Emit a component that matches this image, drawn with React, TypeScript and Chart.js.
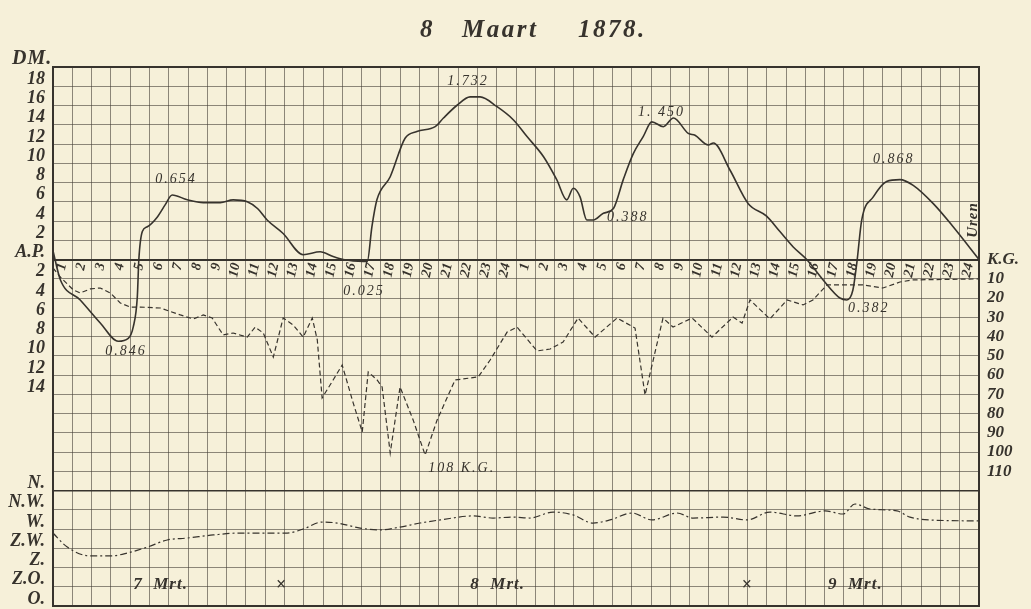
import React, { useEffect, useRef } from "react";
import { Chart, registerables } from "chart.js";

Chart.register(...registerables);

// ---------- data ----------
const hourLabels = [
  "1", "2", "3", "4", "5", "6", "7", "8", "9", "10", "11", "12",
  "13", "14", "15", "16", "17", "18", "19", "20", "21", "22", "23", "24",
  "1", "2", "3", "4", "5", "6", "7", "8", "9", "10", "11", "12",
  "13", "14", "15", "16", "17", "18", "19", "20", "21", "22", "23", "24",
];

// water level (decimetres above/below A.P.), hours from start of sheet
const waterHours = [
  0, 0.38, 1.41, 2.45, 3.38, 3.9, 4.16, 4.37, 4.45, 4.63, 4.89, 5.4, 5.82, 6.18,
  6.96, 7.79, 8.67, 9.34, 10.07, 10.6, 11.1, 11.93, 12.97, 13.85, 14.52, 15.04,
  16.08, 16.29, 16.53, 16.79, 17.48, 18.25, 18.86, 19.81, 20.24, 20.93, 21.62,
  22.14, 23.0, 23.87, 24.56, 25.42, 26.11, 26.63, 26.97, 27.32, 27.67, 28.01,
  28.53, 29.05, 29.56, 30.08, 30.6, 31.04, 31.64, 32.16, 32.93, 33.28, 33.97,
  34.23, 35.09, 36.04, 36.99, 37.68, 38.37, 39.07, 39.91, 40.79, 41.15, 41.46,
  41.67, 41.92, 42.52, 43.21, 43.9, 44.59, 45.63, 46.66, 48.0,
];
const waterDM = [
  0.9, -2.1, -4.2, -6.6, -8.5, -8.2, -7.0, -3.9, 0.0, 2.9, 3.4, 4.4, 5.7, 6.7,
  6.2, 5.9, 5.9, 6.2, 6.0, 5.3, 4.1, 2.7, 0.5, 0.8, 0.3, 0.0,
  -0.2, -0.2, 3.4, 6.2, 8.6, 12.6, 13.3, 13.8, 14.7, 16.0, 16.9,
  16.9, 15.9, 14.5, 12.8, 10.7, 8.3, 6.2, 7.4, 6.5, 4.1, 4.1,
  4.8, 5.3, 8.3, 11.0, 12.8, 14.3, 13.8, 14.7, 13.1, 12.9, 11.9,
  12.1, 9.3, 5.8, 4.5, 2.9, 1.3, 0.0, -2.1, -4.0, -4.2, -3.2,
  -0.3, 4.1, 6.5, 8.1, 8.3, 7.7, 5.8, 3.4, 0.0,
];

// wind pressure (K.G.)
const pressureHours = [
  0, 0.38, 1.05, 1.41, 1.93, 2.45, 2.97, 3.49, 4.0, 4.52, 5.56, 6.6, 7.27, 7.79,
  8.25, 8.82, 9.34, 10.07, 10.48, 10.9, 11.42, 11.93, 12.45, 12.97, 13.44, 13.7,
  13.95, 14.52, 14.99, 15.56, 16.03, 16.34, 16.8, 17.06, 17.48, 17.99, 18.67,
  19.29, 19.91, 20.84, 22.04, 22.66, 23.54, 24.05, 25.09, 25.77, 26.44, 27.22,
  28.1, 29.24, 30.17, 30.69, 31.62, 32.14, 33.13, 34.16, 35.25, 35.72, 36.13,
  37.16, 38.05, 38.88, 39.39, 40.12, 40.95, 41.98, 43.02, 43.9, 44.58, 48.0,
];
const pressureKG = [
  4.4, 9.1, 15.8, 17.4, 15.3, 14.8, 17.4, 22.6, 24.7, 24.7, 25.2, 28.8, 30.9, 28.8,
  30.4, 39.2, 38.2, 40.3, 35.1, 38.2, 50.7, 30.4, 34.0, 40.3, 30.4, 41.8,
  71.9, 62.6, 54.8, 74.5, 89.6, 58.4, 62.6, 66.2, 100.5, 66.2, 83.4,
  101.6, 83.4, 62.6, 61.0, 52.2, 37.7, 35.1, 47.5, 46.5, 42.9, 30.4,
  40.3, 30.4, 35.6, 70.4, 30.4, 35.1, 30.4, 40.3, 29.9, 33.0, 21.0,
  30.9, 21.0, 23.6, 21.0, 13.2, 13.2, 13.2, 14.8, 11.7, 10.6, 10.1,
];

// wind direction: 0=O, 1=Z.O., 2=Z., 3=Z.W., 4=W., 5=N.W., 6=N.
const windHours = [
  0, 0.74, 1.93, 2.97, 3.85, 4.89, 5.92, 6.96, 8.31, 9.7, 11.1, 12.14, 12.97,
  13.95, 14.73, 15.92, 16.95, 17.99, 19.03, 20.07, 21.78, 22.81, 23.85, 24.73,
  25.92, 26.96, 27.99, 28.87, 30.01, 31.05, 32.35, 33.18, 34.73, 35.98, 37.16,
  38.57, 40.02, 40.95, 41.57, 42.35, 43.75, 44.42, 45.46, 48.0,
];
const windDir = [
  3.79, 3.06, 2.6, 2.6, 2.75, 3.06, 3.43, 3.53, 3.69, 3.79, 3.79, 3.79, 4.0,
  4.36, 4.31, 4.05, 3.95, 4.1, 4.31, 4.47, 4.68, 4.57, 4.62, 4.57,
  4.88, 4.73, 4.31, 4.47, 4.83, 4.47, 4.83, 4.57, 4.62, 4.47, 4.88,
  4.68, 4.94, 4.78, 5.3, 5.04, 4.94, 4.62, 4.47, 4.42,
];

const dmTickValues = [18, 16, 14, 12, 10, 8, 6, 4, 2, -2, -4, -6, -8, -10, -12, -14];
const windLabels = ["O.", "Z.O.", "Z.", "Z.W.", "W.", "N.W.", "N."];
const kgTickValues = [10, 20, 30, 40, 50, 60, 70, 80, 90, 100, 110];

const titleParts = ["8", "Maart", "1878."];

const annotations = [
  { text: "0.654", hour: 5.3, dm: 7.95 },
  { text: "1.732", hour: 20.43, dm: 18.13 },
  { text: "1. 450", hour: 30.33, dm: 14.91 },
  { text: "0.388", hour: 28.72, dm: 4.0 },
  { text: "0.868", hour: 42.5, dm: 10.03 },
  { text: "0.025", hour: 15.04, dm: -3.69 },
  { text: "0.846", hour: 2.71, dm: -9.92 },
  { text: "0.382", hour: 41.21, dm: -5.45 },
  { text: "108 K.G.", hour: 19.45, dm: -22.08 },
];
const dayLabels = [
  { text: "7  Mrt.", hour: 4.16 },
  { text: "8  Mrt.", hour: 21.63 },
  { text: "9  Mrt.", hour: 40.17 },
];
const noonMarks = [11.83, 35.97];

// ---------- style ----------
const PAPER = "#f6f0d9";
const INK = "#37332d";
const GRID = "rgba(70,64,55,0.6)";
const SERIF = '"Liberation Serif", "DejaVu Serif", serif';

const paperPlugin = {
  id: "paper",
  beforeDraw(chart: any) {
    const ctx = chart.ctx;
    ctx.save();
    ctx.fillStyle = PAPER;
    ctx.fillRect(0, 0, chart.width, chart.height);
    ctx.restore();
  },
};

const textPlugin = {
  id: "engraving",
  afterDraw(chart: any) {
    const ctx = chart.ctx;
    const x = chart.scales.x;
    const y = chart.scales.y;
    ctx.save();
    ctx.fillStyle = INK;
    ctx.textBaseline = "alphabetic";
    ctx.textAlign = "left";

    // title
    ctx.font = `italic bold 25px ${SERIF}`;
    (ctx as any).letterSpacing = "2.5px";
    const titleX = [420, 462, 578];
    titleParts.forEach((t, i) => ctx.fillText(t, titleX[i], 37));

    // DM.
    ctx.font = `italic bold 20px ${SERIF}`;
    (ctx as any).letterSpacing = "1px";
    ctx.fillText("DM.", 12, 64);

    // value annotations
    ctx.font = `italic 14px ${SERIF}`;
    (ctx as any).letterSpacing = "2px";
    annotations.forEach((a) => {
      ctx.fillText(a.text, x.getPixelForValue(a.hour), y.getPixelForValue(a.dm));
    });

    // day labels
    ctx.font = `italic bold 17px ${SERIF}`;
    (ctx as any).letterSpacing = "1px";
    dayLabels.forEach((d) => {
      ctx.fillText(d.text, x.getPixelForValue(d.hour), y.getPixelForValue(-34.2));
    });

    // noon marks
    ctx.font = `bold 18px ${SERIF}`;
    (ctx as any).letterSpacing = "0px";
    ctx.textAlign = "center";
    ctx.textBaseline = "middle";
    noonMarks.forEach((h) => {
      ctx.fillText("\u00d7", x.getPixelForValue(h), y.getPixelForValue(-33.9));
    });

    // Uren
    ctx.font = `italic bold 15px ${SERIF}`;
    (ctx as any).letterSpacing = "1px";
    ctx.translate(x.getPixelForValue(47.72), y.getPixelForValue(4.1));
    ctx.rotate(-Math.PI / 2);
    ctx.fillText("Uren", 0, 0);
    ctx.restore();
  },
};

const gridColorY = (c: any) => {
  const v = c.tick?.value;
  if (v === 0 || v === 20 || v === -24) return INK;
  return GRID;
};
const gridWidthY = (c: any) => {
  const v = c.tick?.value;
  if (v === 0 || v === 20) return 2;
  if (v === -24) return 1.6;
  return 1;
};

export default function App() {
  const canvasRef = useRef<HTMLCanvasElement | null>(null);

  useEffect(() => {
    if (!canvasRef.current) return;
    const zeroPad = (s: any) => {
      s.paddingLeft = 0;
      s.paddingRight = 0;
      s.paddingTop = 0;
      s.paddingBottom = 0;
    };
    const chart = new Chart(canvasRef.current, {
      type: "line",
      data: {
        datasets: [
          {
            label: "Waterstand",
            data: waterHours.map((h, i) => ({ x: h, y: waterDM[i] })),
            xAxisID: "x",
            yAxisID: "y",
            borderColor: INK,
            borderWidth: 1.6,
            pointRadius: 0,
            cubicInterpolationMode: "monotone",
            fill: false,
          },
          {
            label: "Winddruk",
            data: pressureHours.map((h, i) => ({ x: h, y: pressureKG[i] })),
            xAxisID: "x",
            yAxisID: "y2",
            borderColor: INK,
            borderWidth: 1.2,
            borderDash: [5, 3],
            pointRadius: 0,
            tension: 0,
            fill: false,
          },
          {
            label: "Windrichting",
            data: windHours.map((h, i) => ({ x: h, y: windDir[i] })),
            xAxisID: "x",
            yAxisID: "y3",
            borderColor: INK,
            borderWidth: 1.2,
            borderDash: [7, 3, 2, 3],
            pointRadius: 0,
            cubicInterpolationMode: "monotone",
            fill: false,
          },
        ],
      } as any,
      options: {
        animation: false,
        responsive: true,
        maintainAspectRatio: false,
        layout: { padding: { top: 67, bottom: 3, left: 0, right: 0 } },
        plugins: {
          legend: { display: false },
          tooltip: { enabled: false },
          title: { display: false },
        },
        scales: {
          x: {
            type: "linear",
            position: "bottom",
            min: 0,
            max: 48,
            ticks: { display: false, stepSize: 1, maxTicksLimit: 100, autoSkip: false },
            grid: {
              drawTicks: false,
              color: (c: any) => (c.tick?.value === 0 || c.tick?.value === 48 ? INK : GRID),
              lineWidth: (c: any) => (c.tick?.value === 0 || c.tick?.value === 48 ? 2 : 1),
            },
            border: { display: true, color: INK, width: 2 },
            afterFit: (s: any) => {
              s.height = 0;
              zeroPad(s);
            },
          },
          x2: {
            type: "category",
            labels: hourLabels,
            offset: true,
            position: { y: 0 },
            grid: { display: false, drawTicks: false },
            border: { display: false },
            ticks: {
              autoSkip: false,
              minRotation: 78,
              maxRotation: 78,
              padding: 2,
              color: INK,
              font: { family: SERIF, style: "italic", weight: "bold", size: 14 },
            },
            afterFit: (s: any) => zeroPad(s),
          },
          y: {
            type: "linear",
            position: "left",
            min: -36,
            max: 20,
            ticks: {
              stepSize: 2,
              autoSkip: false,
              maxTicksLimit: 100,
              padding: 8,
              labelOffset: -7,
              color: INK,
              font: { family: SERIF, style: "italic", weight: "bold", size: 18 },
              callback: (v: any) => {
                const n = Number(v);
                if (n === 0) return "A.P.";
                if (dmTickValues.includes(n)) return String(Math.abs(n));
                if (n <= -24) return windLabels[(n + 36) / 2] ?? "";
                return "";
              },
            },
            grid: { drawTicks: false, color: gridColorY, lineWidth: gridWidthY },
            border: { display: true, color: INK, width: 2 },
            afterFit: (s: any) => {
              s.width = 53;
              zeroPad(s);
            },
          },
          y2: {
            type: "linear",
            position: "right",
            reverse: true,
            min: -100,
            max: 180,
            ticks: {
              stepSize: 10,
              autoSkip: false,
              maxTicksLimit: 100,
              padding: 8,
              color: INK,
              font: { family: SERIF, style: "italic", weight: "bold", size: 17 },
              callback: (v: any) => {
                const n = Number(v);
                if (n === 0) return "K.G.";
                if (kgTickValues.includes(n)) return String(n);
                return "";
              },
            },
            grid: { display: false, drawTicks: false },
            border: { display: true, color: INK, width: 2 },
            afterFit: (s: any) => {
              s.width = 52;
              zeroPad(s);
            },
          },
          y3: {
            type: "linear",
            display: false,
            min: 0,
            max: 28,
          },
        },
      } as any,
      plugins: [paperPlugin, textPlugin],
    });
    return () => chart.destroy();
  }, []);

  return (
    <div
      style={{
        position: "absolute",
        left: 0,
        top: 0,
        width: 1031,
        height: 609,
        background: PAPER,
      }}
    >
      <canvas ref={canvasRef} />
    </div>
  );
}
